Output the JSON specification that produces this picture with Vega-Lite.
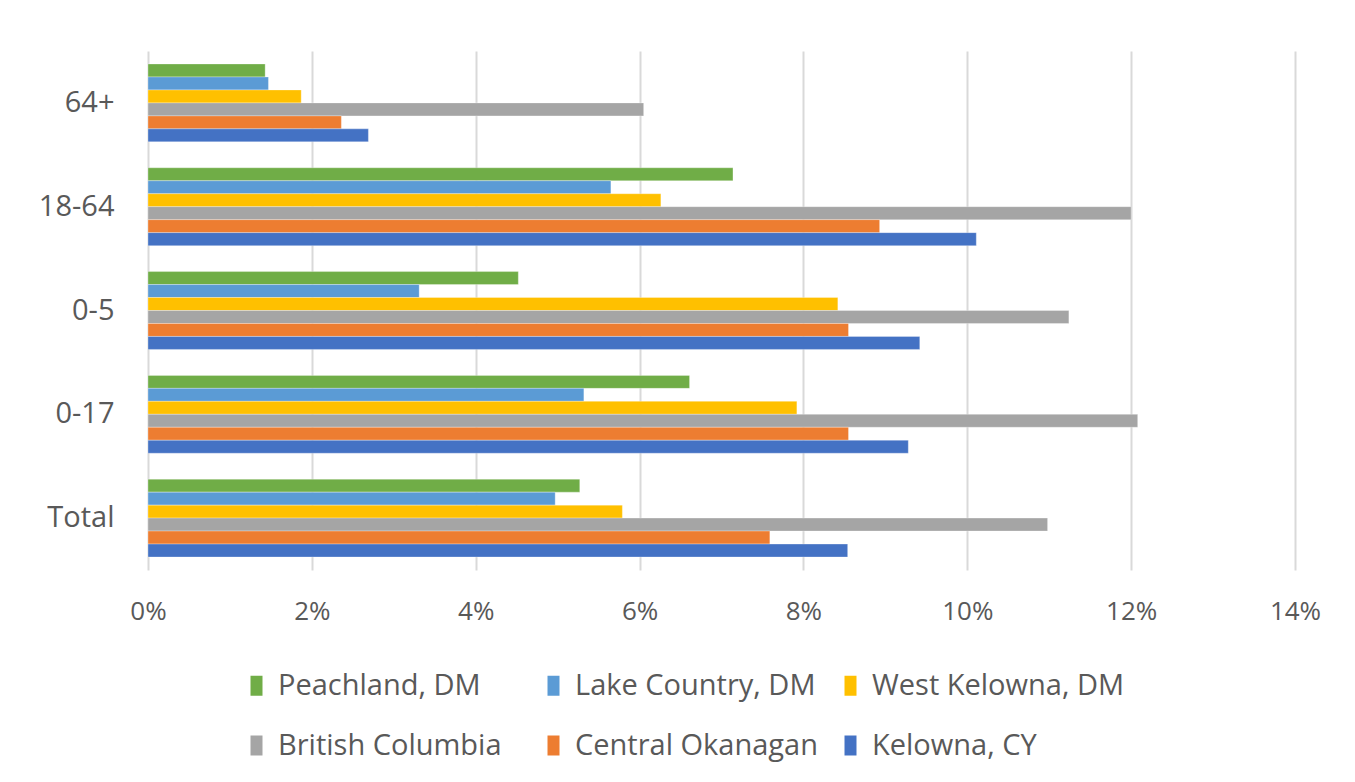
{
  "$schema": "https://vega.github.io/schema/vega-lite/v6.json",
  "width": 1147,
  "height": 519,
  "autosize": "none",
  "padding": {"left": 148, "top": 51, "right": 60, "bottom": 212},
  "background": "white",
  "config": {
    "view": {"stroke": null},
    "font": "Open Sans",
    "axis": {"labelFont": "Open Sans", "labelColor": "#595959"},
    "legend": {"labelFont": "Open Sans", "labelColor": "#595959", "labelFontSize": 29}
  },
  "data": {
    "values": [
      {"age": "Total", "series": "Peachland, DM", "pct": 5.27},
      {"age": "Total", "series": "Lake Country, DM", "pct": 4.97},
      {"age": "Total", "series": "West Kelowna, DM", "pct": 5.79},
      {"age": "Total", "series": "British Columbia", "pct": 10.98},
      {"age": "Total", "series": "Central Okanagan", "pct": 7.59},
      {"age": "Total", "series": "Kelowna, CY", "pct": 8.54},
      {"age": "0-17", "series": "Peachland, DM", "pct": 6.61},
      {"age": "0-17", "series": "Lake Country, DM", "pct": 5.32},
      {"age": "0-17", "series": "West Kelowna, DM", "pct": 7.92},
      {"age": "0-17", "series": "British Columbia", "pct": 12.08},
      {"age": "0-17", "series": "Central Okanagan", "pct": 8.55},
      {"age": "0-17", "series": "Kelowna, CY", "pct": 9.28},
      {"age": "0-5", "series": "Peachland, DM", "pct": 4.52},
      {"age": "0-5", "series": "Lake Country, DM", "pct": 3.31},
      {"age": "0-5", "series": "West Kelowna, DM", "pct": 8.42},
      {"age": "0-5", "series": "British Columbia", "pct": 11.24},
      {"age": "0-5", "series": "Central Okanagan", "pct": 8.55},
      {"age": "0-5", "series": "Kelowna, CY", "pct": 9.42},
      {"age": "18-64", "series": "Peachland, DM", "pct": 7.14},
      {"age": "18-64", "series": "Lake Country, DM", "pct": 5.65},
      {"age": "18-64", "series": "West Kelowna, DM", "pct": 6.26},
      {"age": "18-64", "series": "British Columbia", "pct": 12.0},
      {"age": "18-64", "series": "Central Okanagan", "pct": 8.93},
      {"age": "18-64", "series": "Kelowna, CY", "pct": 10.11},
      {"age": "64+", "series": "Peachland, DM", "pct": 1.43},
      {"age": "64+", "series": "Lake Country, DM", "pct": 1.47},
      {"age": "64+", "series": "West Kelowna, DM", "pct": 1.87},
      {"age": "64+", "series": "British Columbia", "pct": 6.05},
      {"age": "64+", "series": "Central Okanagan", "pct": 2.36},
      {"age": "64+", "series": "Kelowna, CY", "pct": 2.69}
    ]
  },
  "mark": {"type": "bar", "stroke": "white", "strokeWidth": 0.5, "strokeOpacity": 0.6},
  "encoding": {
    "y": {
      "field": "age",
      "type": "nominal",
      "sort": ["64+", "18-64", "0-5", "0-17", "Total"],
      "scale": {"paddingInner": 0.25, "paddingOuter": 0.125},
      "axis": {"title": null, "domain": false, "ticks": false, "labelPadding": 34, "grid": false, "labelFontSize": 29}
    },
    "yOffset": {
      "field": "series",
      "type": "nominal",
      "sort": ["Peachland, DM", "Lake Country, DM", "West Kelowna, DM", "British Columbia", "Central Okanagan", "Kelowna, CY"]
    },
    "x": {
      "field": "pct",
      "type": "quantitative",
      "scale": {"domain": [0, 14], "nice": false},
      "axis": {
        "title": null,
        "domain": false,
        "ticks": false,
        "values": [0, 2, 4, 6, 8, 10, 12, 14],
        "labelExpr": "datum.value + '%'",
        "labelFlush": false,
        "labelAlign": "center",
        "labelFontSize": 26,
        "labelPadding": 28,
        "grid": true,
        "gridColor": "#d9d9d9",
        "gridWidth": 2
      }
    },
    "color": {
      "field": "series",
      "type": "nominal",
      "scale": {
        "domain": ["Peachland, DM", "Lake Country, DM", "West Kelowna, DM", "British Columbia", "Central Okanagan", "Kelowna, CY"],
        "range": ["#70AD47", "#5B9BD5", "#FFC000", "#A5A5A5", "#ED7D31", "#4472C4"]
      },
      "legend": {
        "title": null,
        "orient": "none",
        "legendX": 94,
        "legendY": 620,
        "columns": 3,
        "direction": "horizontal",
        "gridAlign": "all",
        "columnPadding": 8,
        "rowPadding": 30,
        "labelLimit": 400,
        "symbolType": "M-0.6,-1L0.6,-1L0.6,1L-0.6,1Z",
        "symbolSize": 400,
        "symbolStrokeWidth": 0,
        "labelOffset": 7,
        "padding": 0
      }
    }
  }
}
